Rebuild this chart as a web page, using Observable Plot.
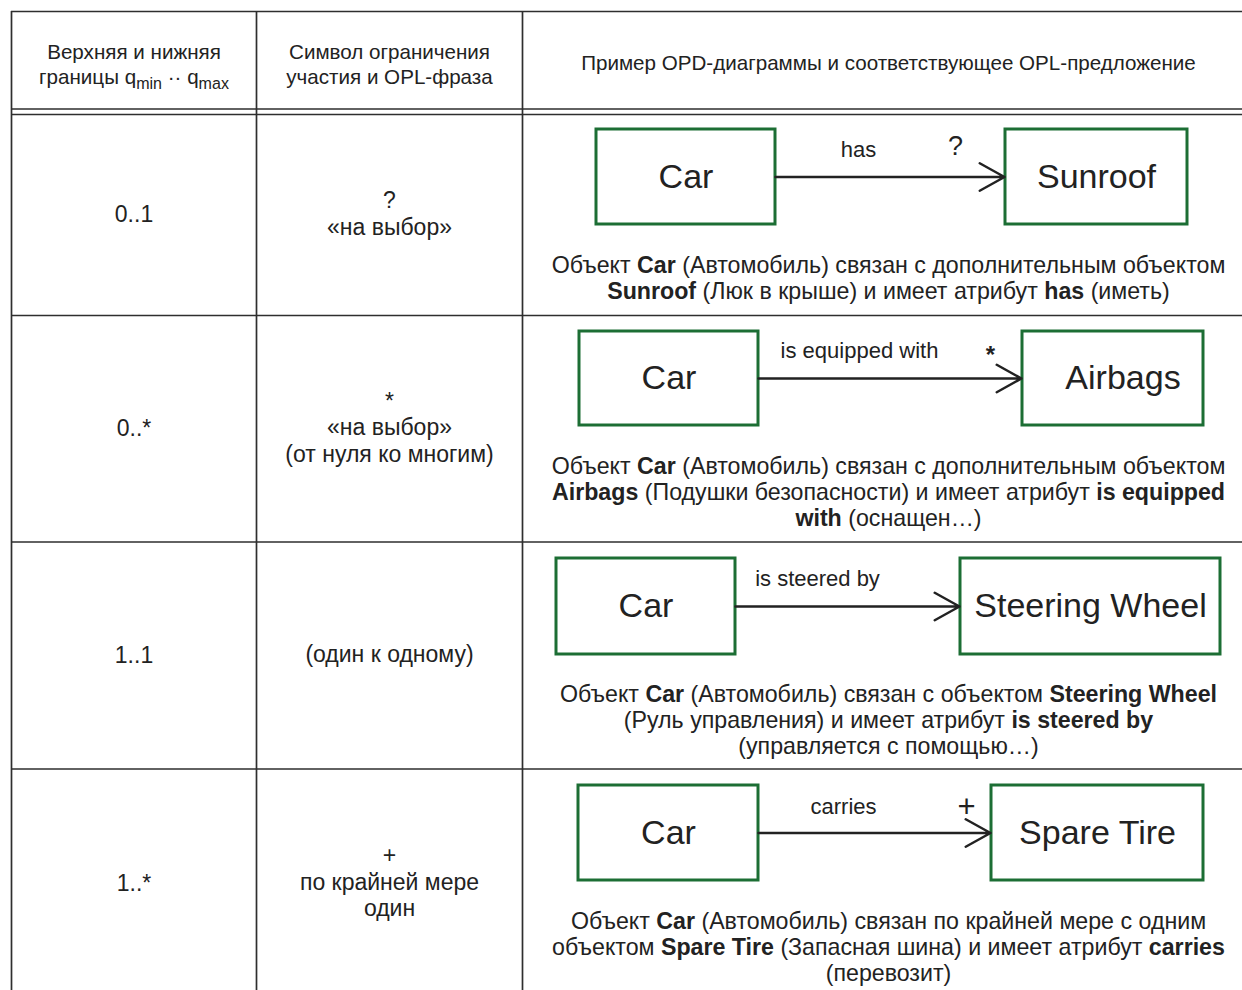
<!DOCTYPE html>
<html>
<head>
<meta charset="utf-8">
<script src="https://cdn.jsdelivr.net/npm/d3@7"></script>
<script src="https://cdn.jsdelivr.net/npm/@observablehq/plot@0.6"></script>
<style>
  html, body { margin: 0; padding: 0; background: #fff; }
  #chart svg { display: block; }
</style>
</head>
<body>
<div id="chart"></div>
<script>
// ---------- content ----------
const headers = [
  "Верхняя и нижняя\nграницы q_{min} ·· q_{max}",
  "Символ ограничения\nучастия и OPL-фраза",
  "Пример OPD-диаграммы и соответствующее OPL-предложение"
];
const bounds = ["0..1", "0..*", "1..1", "1..*"];
const symbols = [
  "?\n«на выбор»",
  "*\n«на выбор»\n(от нуля ко многим)",
  "(один к одному)",
  "+\nпо крайней мере\nодин"
];
const sources = ["Car", "Car", "Car", "Car"];
const targets = ["Sunroof", "Airbags", "Steering Wheel", "Spare Tire"];
const relations = ["has", "is equipped with", "is steered by", "carries"];
const multiplicity = ["?", "*", "", "+"];
const sentences = [
  "Объект **Car** (Автомобиль) связан с дополнительным объектом\n**Sunroof** (Люк в крыше) и имеет атрибут **has** (иметь)",
  "Объект **Car** (Автомобиль) связан с дополнительным объектом\n**Airbags** (Подушки безопасности) и имеет атрибут **is equipped**\n**with** (оснащен…)",
  "Объект **Car** (Автомобиль) связан с объектом **Steering Wheel**\n(Руль управления) и имеет атрибут **is steered by**\n(управляется с помощью…)",
  "Объект **Car** (Автомобиль) связан по крайней мере с одним\nобъектом **Spare Tire** (Запасная шина) и имеет атрибут **carries**\n(перевозит)"
];

// ---------- layout (pixel space of the page) ----------
const W = 1242, H = 990;
const colEdges = [11, 256, 522, 1254];
const tableTop = 11;
const headerLines = [108.5, 114];
const rowEdges = [114, 315, 541.5, 768.5, 997];
const srcBoxX = [[596, 775], [579, 758], [556, 735], [578, 758]];
const dstBoxX = [[1005, 1187], [1022, 1203], [960, 1220], [991, 1203]];
const boxY = [[129, 224], [331, 425], [558, 654], [785, 880]];
const targetLabelShift = [0, 10, 0, 0];
const relLabelPos = [[858, 149], [859, 350], [817, 578], [843, 806]];
const multPos = [[955, 146], [990, 355], null, [966, 807]];
const sentenceY = [278, 492, 720, 947];
const multStyle = {"?": {fontSize: 27, fontWeight: "normal"}, "*": {fontSize: 24, fontWeight: "bold"}, "+": {fontSize: 31, fontWeight: "normal"}};

const INK = "#222";
const LINE = "#2e2e2e";
const GREEN = "#1c6e34";
const FONT = "'Liberation Sans', Arial, Helvetica, sans-serif";

const rows = bounds.map((b, i) => ({
  i, bound: b, symbol: symbols[i], source: sources[i], target: targets[i],
  relation: relations[i], mult: multiplicity[i], sentence: sentences[i],
  sx1: srcBoxX[i][0], sx2: srcBoxX[i][1], tx1: dstBoxX[i][0], tx2: dstBoxX[i][1],
  y1: boxY[i][0], y2: boxY[i][1], ymid: (boxY[i][0] + boxY[i][1]) / 2,
  rowMid: (rowEdges[i] + rowEdges[i + 1]) / 2,
  relX: relLabelPos[i][0], relY: relLabelPos[i][1],
  mx: multPos[i] ? multPos[i][0] : null, my: multPos[i] ? multPos[i][1] : null,
  sentY: sentenceY[i], tShift: targetLabelShift[i]
}));
const colMid = k => (colEdges[k] + colEdges[k + 1]) / 2;
const headerRows = headers.map((h, k) => ({h, x: colMid(k), y: k === 2 ? 62 : 63}));

// ---------- rich text (bold **..**, subscript _{..}) ----------
const SVGNS = "http://www.w3.org/2000/svg";
function formatRich(node) {
  const s = node.textContent;
  if (!/\*\*|_\{/.test(s)) return;
  node.textContent = "";
  const re = /\*\*(.+?)\*\*|_\{(.+?)\}/g;
  let last = 0, m, shifted = false;
  const add = (str, attrs) => {
    const ts = document.createElementNS(SVGNS, "tspan");
    for (const k in attrs) ts.setAttribute(k, attrs[k]);
    ts.textContent = str;
    node.appendChild(ts);
  };
  while ((m = re.exec(s))) {
    if (m.index > last) { add(s.slice(last, m.index), shifted ? {dy: -5} : {}); shifted = false; }
    if (m[1] !== undefined) add(m[1], {"font-weight": "bold"});
    else { add(m[2], {"font-size": "0.78em", dy: 5}); shifted = true; }
    last = re.lastIndex;
  }
  if (last < s.length) add(s.slice(last), shifted ? {dy: -5} : {});
}
function richText(index, scales, values, dims, context, next) {
  const g = next(index, scales, values, dims, context);
  for (const t of g.querySelectorAll("text")) {
    const parts = t.children.length ? Array.from(t.children) : [t];
    parts.forEach(formatRich);
  }
  return g;
}

// ---------- plot ----------
const hLines = [tableTop, ...headerLines, ...rowEdges.slice(1, 4)];
const marks = [
  // table grid
  Plot.ruleY(hLines, {y: d => d, x1: colEdges[0], x2: W + 20, stroke: LINE, strokeWidth: 1.7}),
  Plot.ruleX(colEdges.slice(0, 3), {x: d => d, y1: tableTop, y2: H + 20, stroke: LINE, strokeWidth: 1.7}),
  // header
  Plot.text(headerRows, {x: "x", y: "y", text: "h", fontSize: 20.6, lineHeight: 1.21, fill: INK, render: richText}),
  // column 1 and 2
  Plot.text(rows, {x: colMid(0), y: "rowMid", text: "bound", fontSize: 23, fill: INK}),
  Plot.text(rows, {x: colMid(1), y: d => d.rowMid - 2, text: "symbol", fontSize: 23, lineHeight: 1.16, fill: INK}),
  // OPD boxes
  Plot.rect(rows, {x1: "sx1", x2: "sx2", y1: "y1", y2: "y2", fill: "white", stroke: GREEN, strokeWidth: 3}),
  Plot.rect(rows, {x1: "tx1", x2: "tx2", y1: "y1", y2: "y2", fill: "white", stroke: GREEN, strokeWidth: 3}),
  Plot.text(rows, {x: d => (d.sx1 + d.sx2) / 2, y: "ymid", text: "source", fontSize: 34, fill: INK}),
  Plot.text(rows, {x: d => (d.tx1 + d.tx2) / 2 + d.tShift, y: "ymid", text: "target", fontSize: 34, fill: INK}),
  // links
  Plot.arrow(rows, {x1: "sx2", x2: d => d.tx1 - 1, y1: "ymid", y2: "ymid", stroke: INK, strokeWidth: 2.5, headLength: 17, headAngle: 58, bend: 0}),
  Plot.text(rows, {x: "relX", y: "relY", text: "relation", fontSize: 22, fill: INK}),
  ...Object.entries(multStyle).map(([sym, st]) =>
    Plot.text(rows.filter(d => d.mult === sym), {x: "mx", y: "my", text: "mult", fill: INK, ...st})),
  // OPL sentences
  Plot.text(rows, {x: colMid(2), y: d => d.sentY - 1, text: "sentence", fontSize: 23.2, lineHeight: 1.12, fill: INK, render: richText})
];

const chart = Plot.plot({
  width: W, height: H, margin: 0,
  x: {domain: [0, W], range: [0, W], axis: null},
  y: {domain: [0, H], range: [0, H], axis: null},
  style: {background: "white", fontFamily: FONT, overflow: "hidden"},
  marks
});
document.getElementById("chart").appendChild(chart);
</script>
</body>
</html>
